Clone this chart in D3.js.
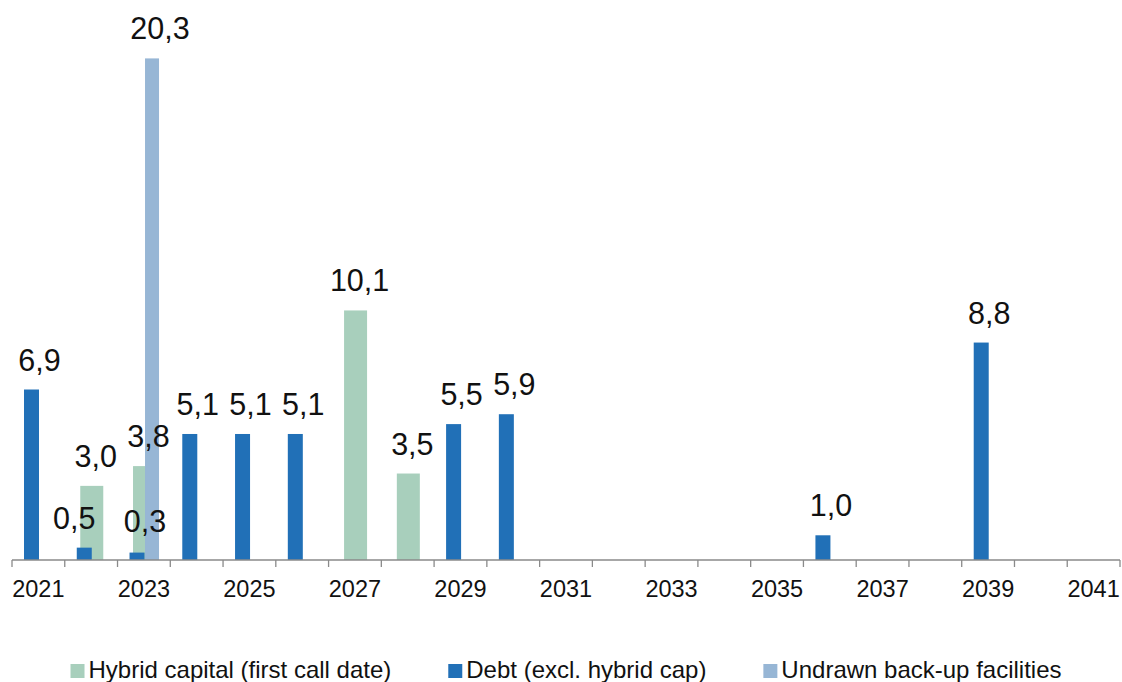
<!DOCTYPE html>
<html>
<head>
<meta charset="utf-8">
<script src="https://cdn.jsdelivr.net/npm/d3@7"></script>
<style>
  body { margin: 0; background: #fff; }
  text { font-family: "Liberation Sans", Arial, sans-serif; fill: #111; }
</style>
</head>
<body>
<svg id="chart" width="1122" height="682"></svg>
<script>
// years on the axis, labels every other year
const years = d3.range(2021, 2042)
const tickYears = years.filter((y, i) => i % 2 === 0)

// values (bn)
const hybridYears = [2022, 2023, 2027, 2028]
const hybridValues = [3.0, 3.8, 10.1, 3.5]

const debtYears = [2021, 2022, 2023, 2024, 2025, 2026, 2029, 2030, 2036, 2039]
const debtValues = [6.9, 0.5, 0.3, 5.1, 5.1, 5.1, 5.5, 5.9, 1.0, 8.8]

const undrawnYears = [2023]
const undrawnValues = [20.3]

const seriesNames = ["Hybrid capital (first call date)", "Debt (excl. hybrid cap)", "Undrawn back-up facilities"]

// drawing order: hybrid underneath, then debt, then undrawn on top
const series = [
    { name: seriesNames[0], years: hybridYears, values: hybridValues, color: "#a8cfbc", offset: 15.5, width: 23, labelDx: 4 },
    { name: seriesNames[1], years: debtYears, values: debtValues, color: "#2170b7", offset: 12, width: 15, labelDx: 8 },
    { name: seriesNames[2], years: undrawnYears, values: undrawnValues, color: "#97b6d5", offset: 27.5, width: 14, labelDx: 8 }
]

// a couple of labels were nudged by hand in the original
const labelNudge = { "Debt (excl. hybrid cap)|2022": -18 }

const fmt = v => d3.format(".1f")(v).replace(".", ",")

const svg = d3.select("#chart")

const x = d3.scaleBand()
    .domain(years)
    .range([12, 1120])
    .padding(0)

const y = d3.scaleLinear()
    .domain([0, 22])
    .range([560, 16.4])

// bars
series.forEach(s => {
    const rows = s.years.map((yr, i) => ({ year: yr, value: s.values[i] }))
    const g = svg.append("g")

    g.selectAll("rect")
        .data(rows)
        .join("rect")
        .attr("x", d => x(d.year) + s.offset)
        .attr("width", s.width)
        .attr("y", d => y(d.value))
        .attr("height", d => y(0) - y(d.value))
        .attr("fill", s.color)
})

// data labels (after bars so they sit on top)
series.forEach(s => {
    const rows = s.years.map((yr, i) => ({ year: yr, value: s.values[i] }))
    svg.append("g")
        .selectAll("text")
        .data(rows)
        .join("text")
        .attr("x", d => x(d.year) + s.offset + s.width / 2 + s.labelDx + (labelNudge[s.name + "|" + d.year] || 0))
        .attr("y", d => Math.min(y(d.value) - 19, 532))
        .attr("text-anchor", "middle")
        .style("font-size", "30.5px")
        .text(d => fmt(d.value))
})

// x axis: ticks on band edges, labels centred in every other band
const axisG = svg.append("g").attr("transform", `translate(0,${y(0)})`)

axisG.append("line")
    .attr("x1", x.range()[0])
    .attr("x2", x.range()[1])
    .attr("stroke", "#8a8a8a")
    .attr("stroke-width", 1.3)

axisG.selectAll("line.tick")
    .data(years.concat([2042]))
    .join("line")
    .attr("class", "tick")
    .attr("x1", d => d === 2042 ? x.range()[1] : x(d))
    .attr("x2", d => d === 2042 ? x.range()[1] : x(d))
    .attr("y1", 0)
    .attr("y2", 7)
    .attr("stroke", "#8a8a8a")
    .attr("stroke-width", 1.3)

axisG.selectAll("text")
    .data(tickYears)
    .join("text")
    .attr("x", d => x(d) + x.bandwidth() / 2)
    .attr("y", 37)
    .attr("text-anchor", "middle")
    .style("font-size", "23.5px")
    .text(d => d)

// legend, centred under the chart
const legend = svg.append("g").attr("transform", "translate(0,678)")
const items = legend.selectAll("g")
    .data(series.map(s => s))
    .join("g")

items.append("rect")
    .attr("x", 0)
    .attr("y", -14)
    .attr("width", 14)
    .attr("height", 14)
    .attr("fill", d => d.color)

items.append("text")
    .attr("x", 18)
    .attr("y", 0)
    .style("font-size", "24px")
    .text(d => d.name)

const itemGap = 57
const widths = []
items.each(function () { widths.push(this.getBBox().width) })
const total = d3.sum(widths) + itemGap * (widths.length - 1)
let cx = 566 - total / 2
items.attr("transform", (d, i) => {
    const t = `translate(${cx},0)`
    cx += widths[i] + itemGap
    return t
})
</script>
</body>
</html>
